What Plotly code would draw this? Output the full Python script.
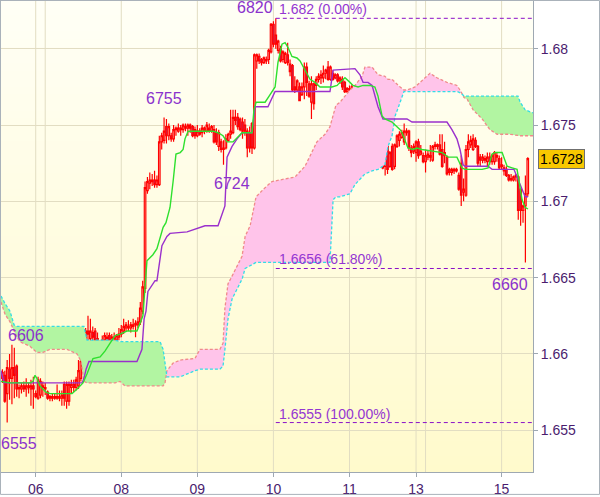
import plotly.graph_objects as go

# ---------------- data ----------------
bars = list(range(-14, 208))  # 45-minute bars, 0 = first bar of day 06

opens = [
    1.6584, 1.6586, 1.6574, 1.6590, 1.6584, 1.6591, 1.6592, 1.6577, 1.6577, 1.6579,
    1.6577, 1.6579, 1.6577, 1.6579, 1.6574, 1.6571, 1.6573, 1.6579, 1.6578, 1.6575,
    1.6571, 1.6572, 1.6571, 1.6572, 1.6571, 1.6571, 1.6580, 1.6569, 1.6569, 1.6578,
    1.6580, 1.6578, 1.6579, 1.6584, 1.6595, 1.6590, 1.6615, 1.6610, 1.6614, 1.6615,
    1.6609, 1.6606, 1.6604, 1.6609, 1.6610, 1.6612, 1.6608, 1.6610, 1.6609, 1.6611,
    1.6613, 1.6615, 1.6617, 1.6618, 1.6617, 1.6618, 1.6619, 1.6619, 1.6621, 1.6628,
    1.6643, 1.6707, 1.6712, 1.6714, 1.6714, 1.6711, 1.6711, 1.6739, 1.6740, 1.6749,
    1.6743, 1.6743, 1.6741, 1.6747, 1.6746, 1.6748, 1.6747, 1.6749, 1.6748, 1.6750,
    1.6749, 1.6747, 1.6743, 1.6746, 1.6745, 1.6748, 1.6746, 1.6748, 1.6746, 1.6747,
    1.6745, 1.6736, 1.6739, 1.6735, 1.6735, 1.6740, 1.6744, 1.6745, 1.6755, 1.6755,
    1.6754, 1.6752, 1.6750, 1.6746, 1.6745, 1.6751, 1.6735, 1.6792, 1.6795, 1.6793,
    1.6791, 1.6793, 1.6793, 1.6798, 1.6816, 1.6809, 1.6799, 1.6800, 1.6793, 1.6791,
    1.6796, 1.6790, 1.6789, 1.6775, 1.6773, 1.6775, 1.6770, 1.6775, 1.6788, 1.6777,
    1.6765, 1.6777, 1.6776, 1.6780, 1.6781, 1.6781, 1.6784, 1.6788, 1.6780, 1.6784,
    1.6781, 1.6783, 1.6779, 1.6780, 1.6778, 1.6772, 1.6774, 1.6773, 1.6774, 1.6773,
    1.6770, 1.6773, 1.6771, 1.6771, 1.6774, 1.6779, 1.6775, 1.6773, 1.6765, 1.6754,
    1.6737, 1.6723, 1.6736, 1.6723, 1.6736, 1.6723, 1.6736, 1.6740, 1.6742, 1.6739,
    1.6746, 1.6746, 1.6735, 1.6733, 1.6732, 1.6739, 1.6731, 1.6730, 1.6726, 1.6729,
    1.6730, 1.6727, 1.6736, 1.6737, 1.6737, 1.6734, 1.6732, 1.6729, 1.6721, 1.6719,
    1.6721, 1.6720, 1.6717, 1.6725, 1.6706, 1.6704, 1.6734, 1.6737, 1.6734, 1.6740,
    1.6736, 1.6729, 1.6727, 1.6728, 1.6726, 1.6729, 1.6726, 1.6726, 1.6730, 1.6728,
    1.6724, 1.6722, 1.6721, 1.6717, 1.6715, 1.6714, 1.6716, 1.6716, 1.6708, 1.6694,
    1.6697, 1.6705,
]
highs = [
    1.6590, 1.6589, 1.6596, 1.6600, 1.6606, 1.6604, 1.6593, 1.6580, 1.6581, 1.6582,
    1.6584, 1.6581, 1.6583, 1.6585, 1.6576, 1.6585, 1.6584, 1.6582, 1.6581, 1.6576,
    1.6573, 1.6574, 1.6574, 1.6580, 1.6576, 1.6576, 1.6582, 1.6582, 1.6582, 1.6583,
    1.6583, 1.6585, 1.6596, 1.6597, 1.6598, 1.6617, 1.6625, 1.6623, 1.6618, 1.6617,
    1.6614, 1.6609, 1.6612, 1.6614, 1.6614, 1.6614, 1.6613, 1.6614, 1.6613, 1.6617,
    1.6619, 1.6623, 1.6621, 1.6622, 1.6621, 1.6623, 1.6622, 1.6624, 1.6634, 1.6648,
    1.6713, 1.6716, 1.6719, 1.6718, 1.6720, 1.6717, 1.6743, 1.6745, 1.6755, 1.6754,
    1.6751, 1.6745, 1.6750, 1.6749, 1.6751, 1.6750, 1.6751, 1.6751, 1.6751, 1.6751,
    1.6750, 1.6749, 1.6750, 1.6748, 1.6750, 1.6749, 1.6752, 1.6751, 1.6750, 1.6750,
    1.6748, 1.6747, 1.6741, 1.6740, 1.6744, 1.6745, 1.6760, 1.6760, 1.6760, 1.6758,
    1.6755, 1.6755, 1.6754, 1.6748, 1.6749, 1.6752, 1.6797, 1.6797, 1.6797, 1.6794,
    1.6795, 1.6795, 1.6800, 1.6817, 1.6818, 1.6820, 1.6806, 1.6802, 1.6799, 1.6798,
    1.6804, 1.6793, 1.6790, 1.6782, 1.6780, 1.6778, 1.6778, 1.6791, 1.6791, 1.6779,
    1.6782, 1.6778, 1.6782, 1.6784, 1.6786, 1.6789, 1.6787, 1.6792, 1.6789, 1.6786,
    1.6784, 1.6784, 1.6782, 1.6782, 1.6779, 1.6775, 1.6776, 1.6777, 1.6775, 1.6775,
    1.6775, 1.6775, 1.6774, 1.6778, 1.6780, 1.6780, 1.6776, 1.6774, 1.6766, 1.6756,
    1.6738, 1.6737, 1.6737, 1.6733, 1.6738, 1.6738, 1.6744, 1.6746, 1.6747, 1.6751,
    1.6748, 1.6747, 1.6737, 1.6738, 1.6740, 1.6741, 1.6737, 1.6732, 1.6734, 1.6733,
    1.6737, 1.6737, 1.6739, 1.6738, 1.6744, 1.6744, 1.6739, 1.6730, 1.6722, 1.6722,
    1.6722, 1.6722, 1.6719, 1.6730, 1.6715, 1.6737, 1.6744, 1.6743, 1.6744, 1.6742,
    1.6737, 1.6731, 1.6731, 1.6730, 1.6732, 1.6732, 1.6731, 1.6733, 1.6732, 1.6730,
    1.6729, 1.6724, 1.6723, 1.6718, 1.6718, 1.6717, 1.6718, 1.6717, 1.6708, 1.6698,
    1.6717, 1.6729,
]
lows = [
    1.6581, 1.6568, 1.6555, 1.6570, 1.6567, 1.6571, 1.6572, 1.6571, 1.6574, 1.6575,
    1.6572, 1.6574, 1.6566, 1.6564, 1.6571, 1.6570, 1.6571, 1.6572, 1.6573, 1.6570,
    1.6569, 1.6569, 1.6570, 1.6570, 1.6569, 1.6566, 1.6566, 1.6564, 1.6566, 1.6574,
    1.6575, 1.6576, 1.6577, 1.6582, 1.6590, 1.6588, 1.6609, 1.6608, 1.6608, 1.6606,
    1.6603, 1.6602, 1.6602, 1.6607, 1.6607, 1.6605, 1.6606, 1.6607, 1.6607, 1.6609,
    1.6611, 1.6613, 1.6615, 1.6615, 1.6614, 1.6616, 1.6611, 1.6617, 1.6619, 1.6626,
    1.6640, 1.6705, 1.6708, 1.6710, 1.6709, 1.6709, 1.6710, 1.6734, 1.6738, 1.6738,
    1.6740, 1.6739, 1.6739, 1.6743, 1.6745, 1.6743, 1.6745, 1.6746, 1.6743, 1.6745,
    1.6742, 1.6741, 1.6742, 1.6743, 1.6742, 1.6744, 1.6745, 1.6745, 1.6745, 1.6738,
    1.6737, 1.6733, 1.6732, 1.6724, 1.6734, 1.6739, 1.6741, 1.6744, 1.6750, 1.6747,
    1.6746, 1.6741, 1.6743, 1.6729, 1.6732, 1.6731, 1.6734, 1.6787, 1.6790, 1.6789,
    1.6790, 1.6790, 1.6790, 1.6797, 1.6801, 1.6800, 1.6797, 1.6791, 1.6791, 1.6790,
    1.6789, 1.6782, 1.6772, 1.6771, 1.6772, 1.6766, 1.6769, 1.6767, 1.6769, 1.6768,
    1.6754, 1.6760, 1.6773, 1.6778, 1.6777, 1.6778, 1.6780, 1.6779, 1.6779, 1.6779,
    1.6780, 1.6778, 1.6777, 1.6773, 1.6771, 1.6771, 1.6771, 1.6772, 1.6766, 1.6769,
    1.6769, 1.6769, 1.6769, 1.6770, 1.6772, 1.6771, 1.6763, 1.6763, 1.6741, 1.6735,
    1.6721, 1.6717, 1.6718, 1.6722, 1.6720, 1.6721, 1.6735, 1.6736, 1.6741, 1.6737,
    1.6743, 1.6733, 1.6729, 1.6731, 1.6726, 1.6728, 1.6730, 1.6725, 1.6719, 1.6727,
    1.6726, 1.6726, 1.6734, 1.6734, 1.6730, 1.6722, 1.6725, 1.6717, 1.6717, 1.6717,
    1.6718, 1.6719, 1.6707, 1.6697, 1.6700, 1.6703, 1.6729, 1.6735, 1.6733, 1.6735,
    1.6723, 1.6723, 1.6725, 1.6725, 1.6723, 1.6724, 1.6724, 1.6724, 1.6726, 1.6721,
    1.6721, 1.6717, 1.6716, 1.6713, 1.6713, 1.6713, 1.6713, 1.6688, 1.6684, 1.6686,
    1.6660, 1.6703,
]
closes = [
    1.6588, 1.6569, 1.6591, 1.6584, 1.6591, 1.6586, 1.6577, 1.6578, 1.6579, 1.6577,
    1.6579, 1.6578, 1.6579, 1.6577, 1.6572, 1.6583, 1.6582, 1.6578, 1.6577, 1.6571,
    1.6572, 1.6571, 1.6572, 1.6571, 1.6572, 1.6573, 1.6571, 1.6580, 1.6580, 1.6580,
    1.6578, 1.6583, 1.6589, 1.6595, 1.6596, 1.6615, 1.6613, 1.6615, 1.6611, 1.6608,
    1.6610, 1.6604, 1.6609, 1.6612, 1.6611, 1.6608, 1.6611, 1.6611, 1.6612, 1.6613,
    1.6616, 1.6618, 1.6619, 1.6617, 1.6619, 1.6619, 1.6620, 1.6621, 1.6630, 1.6644,
    1.6709, 1.6713, 1.6714, 1.6713, 1.6711, 1.6714, 1.6739, 1.6743, 1.6746, 1.6743,
    1.6749, 1.6741, 1.6747, 1.6748, 1.6748, 1.6747, 1.6750, 1.6748, 1.6750, 1.6748,
    1.6743, 1.6743, 1.6746, 1.6744, 1.6748, 1.6746, 1.6750, 1.6746, 1.6749, 1.6739,
    1.6739, 1.6745, 1.6734, 1.6734, 1.6741, 1.6744, 1.6746, 1.6755, 1.6753, 1.6749,
    1.6747, 1.6746, 1.6746, 1.6735, 1.6735, 1.6735, 1.6796, 1.6796, 1.6792, 1.6791,
    1.6794, 1.6792, 1.6799, 1.6816, 1.6803, 1.6803, 1.6805, 1.6792, 1.6798, 1.6797,
    1.6791, 1.6785, 1.6773, 1.6773, 1.6779, 1.6766, 1.6775, 1.6788, 1.6778, 1.6769,
    1.6777, 1.6764, 1.6780, 1.6782, 1.6783, 1.6784, 1.6786, 1.6780, 1.6788, 1.6780,
    1.6783, 1.6779, 1.6781, 1.6775, 1.6772, 1.6774, 1.6773, 1.6775, 1.6772, 1.6771,
    1.6774, 1.6770, 1.6773, 1.6777, 1.6779, 1.6773, 1.6765, 1.6765, 1.6742, 1.6736,
    1.6722, 1.6736, 1.6721, 1.6732, 1.6721, 1.6737, 1.6743, 1.6744, 1.6745, 1.6746,
    1.6745, 1.6735, 1.6732, 1.6736, 1.6739, 1.6730, 1.6733, 1.6726, 1.6730, 1.6731,
    1.6729, 1.6736, 1.6737, 1.6736, 1.6731, 1.6723, 1.6730, 1.6718, 1.6719, 1.6721,
    1.6720, 1.6721, 1.6708, 1.6704, 1.6708, 1.6734, 1.6739, 1.6740, 1.6741, 1.6736,
    1.6725, 1.6727, 1.6729, 1.6727, 1.6729, 1.6726, 1.6730, 1.6732, 1.6729, 1.6722,
    1.6723, 1.6720, 1.6717, 1.6714, 1.6714, 1.6716, 1.6717, 1.6694, 1.6694, 1.6697,
    1.6705, 1.6728,
]

# Ichimoku lines (bar position, price)
tenkan_x = [-14.6, -10.8, -2.4, -1.1, -0.3, 0.5, 1.8, 4.3, 6.0, 15.3, 17.4, 19.9, 21.6, 24.1, 27.1,
            29.2, 31.3, 33.4, 35.5, 38.4, 42.6, 45.1, 46.8, 49.3, 51.0, 52.3, 53.6, 54.8, 56.5, 57.8,
            59.0, 60.8, 62.0, 62.8, 64.1, 74.6, 76.7, 78.8, 80.5, 83.0, 84.7, 86.8, 91.0, 91.8, 92.7,
            96.5, 98.6, 100.7, 101.9, 103.6, 104.9, 106.1, 107.8, 109.9, 111.2, 113.3, 115.4, 117.5,
            119.6, 124.6, 126.8, 128.0, 130.1, 132.2, 133.5, 135.6, 137.7, 140.6, 142.7, 144.0, 145.7,
            146.9, 149.9, 151.2, 153.3, 154.1, 156.6, 158.7, 160.4, 162.5, 168.0, 170.9, 173.5, 177.2,
            179.3, 180.6, 187.8, 190.3, 192.0, 193.3, 196.2, 198.3, 200.4, 202.5, 204.6, 205.9, 207.1]
tenkan_y = [1.6582, 1.6581, 1.6581, 1.6582, 1.6586, 1.6584, 1.6579, 1.6575, 1.6574, 1.6574, 1.6577,
            1.6581, 1.6587, 1.6597, 1.6598, 1.6602, 1.6607, 1.6612, 1.6613, 1.6615, 1.6615, 1.6625,
            1.6661, 1.6665, 1.6669, 1.6677, 1.6683, 1.6686, 1.6696, 1.6713, 1.6731, 1.6732, 1.6734,
            1.6741, 1.6746, 1.6746, 1.6745, 1.6743, 1.6739, 1.6739, 1.6742, 1.6745, 1.6745, 1.6760,
            1.6765, 1.6765, 1.6770, 1.6775, 1.6791, 1.6803, 1.6804, 1.6801, 1.6795, 1.6794, 1.6792,
            1.6786, 1.6780, 1.6778, 1.6775, 1.6775, 1.6776, 1.6778, 1.6781, 1.6778, 1.6776, 1.6775,
            1.6776, 1.6776, 1.6775, 1.6769, 1.6756, 1.6754, 1.6752, 1.6750, 1.6747, 1.6745, 1.6735,
            1.6734, 1.6735, 1.6734, 1.6733, 1.6732, 1.6729, 1.6729, 1.6722, 1.6721, 1.6721, 1.6722,
            1.6731, 1.6732, 1.6732, 1.6723, 1.6722, 1.6721, 1.6701, 1.6696, 1.6695]

kijun_x = [-14.6, -13.3, 19.5, 20.3, 21.2, 22.4, 42.6, 44.7, 45.6, 46.4, 47.2, 50.2, 51.0, 53.1, 55.2,
           56.5, 63.7, 65.8, 70.0, 71.2, 76.7, 79.6, 80.5, 82.6, 84.7, 86.8, 91.0, 92.3, 97.7, 99.4,
           100.7, 123.8, 125.1, 134.3, 136.4, 137.7, 139.8, 141.5, 144.0, 146.1, 151.2, 156.2, 158.3,
           173.0, 175.1, 177.2, 178.5, 179.8, 180.6, 190.3, 192.0, 201.2, 202.5, 204.2, 205.9, 207.1]
kijun_y = [1.6589, 1.6581, 1.6581, 1.6584, 1.6590, 1.6595, 1.6595, 1.6603, 1.6623, 1.6628, 1.6641,
           1.6648, 1.6648, 1.6671, 1.6677, 1.6679, 1.6680, 1.6681, 1.6683, 1.6684, 1.6684, 1.6697,
           1.6729, 1.6736, 1.6741, 1.6745, 1.6745, 1.6762, 1.6762, 1.6768, 1.6772, 1.6772, 1.6786,
           1.6787, 1.6783, 1.6778, 1.6778, 1.6776, 1.6762, 1.6754, 1.6754, 1.6754, 1.6752, 1.6752,
           1.6747, 1.6741, 1.6734, 1.6724, 1.6723, 1.6723, 1.6721, 1.6721, 1.6716, 1.6710, 1.6703,
           1.6703]

cloud_x = [-14.6, -12.9, -10.8, -9.1, -7.9, -6.6, -2.4, 0.5, 3.1, 6.0, 13.2, 17.4, 19.1, 20.3, 21.6,
           33.4, 35.5, 37.6, 52.3, 53.6, 54.4, 55.2, 57.8, 60.8, 67.0, 69.1, 77.5, 78.8, 79.6, 80.9,
           82.6, 84.7, 86.8, 88.1, 90.2, 91.4, 92.7, 96.5, 99.4, 109.1, 113.3, 118.3, 121.7, 123.8,
           125.1, 126.3, 128.0, 132.2, 134.3, 137.3, 138.5, 141.5, 144.0, 146.9, 148.2, 149.9, 151.2,
           152.4, 153.3, 154.9, 156.2, 159.6, 162.9, 165.9, 168.8, 173.0, 177.2, 178.9, 180.2, 181.5,
           184.0, 187.8, 191.1, 194.1, 199.5, 202.9, 203.8, 205.9, 209.2]
span_a = [1.6638, 1.6633, 1.6628, 1.6619, 1.6618, 1.6618, 1.6618, 1.6618, 1.6618, 1.6618, 1.6618,
          1.6618, 1.6618, 1.6618, 1.6609, 1.6609, 1.6608, 1.6608, 1.6608, 1.6603, 1.6594, 1.6585,
          1.6585, 1.6585, 1.6589, 1.6590, 1.6590, 1.6592, 1.6603, 1.6623, 1.6636, 1.6643, 1.6649,
          1.6656, 1.6658, 1.6659, 1.6660, 1.6660, 1.6660, 1.6660, 1.6660, 1.6660, 1.6660, 1.6660,
          1.6701, 1.6703, 1.6703, 1.6705, 1.6711, 1.6716, 1.6718, 1.6720, 1.6721, 1.6724, 1.6736,
          1.6743, 1.6756, 1.6761, 1.6765, 1.6772, 1.6772, 1.6772, 1.6772, 1.6772, 1.6772, 1.6772,
          1.6772, 1.6771, 1.6769, 1.6769, 1.6769, 1.6769, 1.6769, 1.6769, 1.6769, 1.6769, 1.6765,
          1.6760, 1.6758]
span_b = [1.6634, 1.6626, 1.6621, 1.6615, 1.6611, 1.6608, 1.6605, 1.6601, 1.6601, 1.6603, 1.6603,
          1.6600, 1.6595, 1.6582, 1.6581, 1.6581, 1.6582, 1.6579, 1.6579, 1.6579, 1.6581, 1.6589,
          1.6594, 1.6596, 1.6597, 1.6603, 1.6603, 1.6607, 1.6630, 1.6646, 1.6651, 1.6658, 1.6664,
          1.6677, 1.6684, 1.6693, 1.6703, 1.6709, 1.6713, 1.6716, 1.6723, 1.6739, 1.6744, 1.6749,
          1.6757, 1.6763, 1.6765, 1.6773, 1.6776, 1.6782, 1.6788, 1.6788, 1.6783, 1.6782, 1.6780,
          1.6780, 1.6778, 1.6776, 1.6775, 1.6773, 1.6773, 1.6775, 1.6780, 1.6784, 1.6781, 1.6778,
          1.6776, 1.6772, 1.6768, 1.6767, 1.6760, 1.6754, 1.6747, 1.6744, 1.6744, 1.6743, 1.6743,
          1.6743, 1.6743]

day_ticks = [0, 36, 68, 100, 132, 160, 196]
day_labels = ["06", "08", "09", "10", "11", "13", "15"]
day_starts = [0, 4, 36, 68, 100, 132, 160, 164, 196]

price_ticks = [1.655, 1.66, 1.665, 1.67, 1.675, 1.68]
price_labels = ["1.655", "1.66", "1.665", "1.67", "1.675", "1.68"]

fib_start_bar = 101
fib_levels = [1.682, 1.6656, 1.6555]
fib_pcts = ["0.00%", "61.80%", "100.00%"]

swing_text = ["6820", "6755", "6724", "6660", "6606", "6555"]
swing_bar = [101, 54, 79, 206, -10, -12]
swing_price = [1.6820, 1.6755, 1.6724, 1.6660, 1.6606, 1.6555]

last_price = 1.6728

# ---------------- styling ----------------
X_RANGE = [-14.6, 209.2]
Y_RANGE = [1.65226, 1.68320]
FONT = "Liberation Sans, Arial, sans-serif"
AXIS_TXT = "#4a1c6e"
LABEL_COL = "#8b32cc"
GRID = "#e2ddc2"
BORDER = "#9ea8b2"

fig = go.Figure()

# cloud fill: split into runs where span A is above (green) or below (pink) span B
pts = []
for i in range(len(cloud_x)):
    if i:
        d0 = span_a[i - 1] - span_b[i - 1]
        d1 = span_a[i] - span_b[i]
        if d0 * d1 < 0:
            t = d0 / (d0 - d1)
            kc = cloud_x[i - 1] + t * (cloud_x[i] - cloud_x[i - 1])
            vc = span_a[i - 1] + t * (span_a[i] - span_a[i - 1])
            pts.append((kc, vc, vc))
    pts.append((cloud_x[i], span_a[i], span_b[i]))

runs = []
cur, cur_sign = [], 0
for p in pts:
    d = p[1] - p[2]
    s = (d > 0) - (d < 0)
    if s == 0:
        cur.append(p)
        if cur_sign != 0:
            runs.append((cur_sign, cur))
            cur, cur_sign = [p], 0
        continue
    if cur_sign == 0:
        cur_sign = s
    cur.append(p)
if len(cur) > 1:
    runs.append((cur_sign, cur))

for sign, color in [(1, "#b2f5a2"), (-1, "#ffc4ea")]:
    xs, ys = [], []
    for sg, run in runs:
        if sg != sign or len(run) < 2:
            continue
        xs += [p[0] for p in run] + [p[0] for p in reversed(run)] + [None]
        ys += [p[1] for p in run] + [p[2] for p in reversed(run)] + [None]
    fig.add_trace(go.Scatter(x=xs, y=ys, mode="lines", fill="toself", fillcolor=color,
                             line=dict(width=0), hoverinfo="skip", showlegend=False))

fig.add_trace(go.Scatter(x=cloud_x, y=span_b, mode="lines",
                         line=dict(color="#f08a8a", width=1.3, dash="3px,2px"),
                         hoverinfo="skip", showlegend=False))
fig.add_trace(go.Scatter(x=cloud_x, y=span_a, mode="lines",
                         line=dict(color="#33dde6", width=1.3, dash="3px,2px"),
                         hoverinfo="skip", showlegend=False))

fig.add_trace(go.Candlestick(
    x=bars, open=opens, high=highs, low=lows, close=closes,
    increasing=dict(line=dict(color="#ff0000", width=1.2), fillcolor="rgba(0,0,0,0)"),
    decreasing=dict(line=dict(color="#ff0000", width=1.2), fillcolor="#9b3a97"),
    whiskerwidth=0, hoverinfo="skip", showlegend=False))

fig.add_trace(go.Scatter(x=kijun_x, y=kijun_y, mode="lines",
                         line=dict(color="#9a30cc", width=1.4), hoverinfo="skip", showlegend=False))
fig.add_trace(go.Scatter(x=tenkan_x, y=tenkan_y, mode="lines",
                         line=dict(color="#2ee02e", width=1.4), hoverinfo="skip", showlegend=False))

shapes = []
# background gradient (bottom yellow -> top cream)
n = 60
bot_rgb, top_rgb = (255, 250, 204), (255, 255, 246)
for i in range(n):
    t = (i + 0.5) / n
    c = tuple(round(b + (tp - b) * t) for b, tp in zip(bot_rgb, top_rgb))
    shapes.append(dict(type="rect", xref="paper", yref="paper", x0=0, x1=1,
                       y0=i / n, y1=min(1, (i + 1) / n + 0.003),
                       fillcolor="rgb(%d,%d,%d)" % c, line=dict(width=0), layer="below"))
for k in day_starts:
    shapes.append(dict(type="line", xref="x", yref="paper", x0=k, x1=k, y0=0, y1=1,
                       line=dict(color=GRID, width=1), layer="below"))
for lv in fib_levels:
    shapes.append(dict(type="line", xref="x", yref="y", x0=fib_start_bar, x1=X_RANGE[1],
                       y0=lv, y1=lv, line=dict(color="#8a10c8", width=1, dash="4px,3px")))
# outer frame of the whole picture
PW, PH, PL = 532.0, 474.0, 1.0
shapes.append(dict(type="rect", xref="paper", yref="paper",
                   x0=(0.5 - PL) / PW, x1=(599.5 - PL) / PW,
                   y0=(PH - 496.5) / PH, y1=(PH - 0.5) / PH,
                   line=dict(color="#a9b2ba", width=1), fillcolor="rgba(0,0,0,0)"))

annotations = []
for lv, pct in zip(fib_levels, fib_pcts):
    annotations.append(dict(x=fib_start_bar, y=lv, xref="x", yref="y", text=f"{lv} ({pct})",
                            showarrow=False, xanchor="left", yanchor="bottom", xshift=1, yshift=-1,
                            font=dict(family=FONT, size=14, color="#9436d2")))

swing_style = {
    "6820": dict(xanchor="right", yanchor="bottom", xshift=-1, yshift=0),
    "6755": dict(xanchor="center", yanchor="bottom", xshift=0, yshift=8),
    "6724": dict(xanchor="center", yanchor="top", xshift=8, yshift=-8),
    "6660": dict(xanchor="right", yanchor="top", xshift=5, yshift=-12),
    "6606": dict(xanchor="center", yanchor="bottom", xshift=14, yshift=-1),
    "6555": dict(xanchor="center", yanchor="top", xshift=12, yshift=-10),
}
for txt, b, p in zip(swing_text, swing_bar, swing_price):
    st = swing_style[txt]
    annotations.append(dict(x=b, y=p, xref="x", yref="y", text=txt, showarrow=False,
                            font=dict(family=FONT, size=16, color=LABEL_COL), **st))

annotations.append(dict(x=1, y=last_price, xref="paper", yref="y", text=f"{last_price:.4f}",
                        showarrow=False, xanchor="left", yanchor="middle", xshift=5,
                        bgcolor="#f8c800", bordercolor="#6f6f6f", borderwidth=1, borderpad=1,
                        font=dict(family=FONT, size=14, color="#000000")))

fig.update_layout(
    width=600, height=497,
    margin=dict(l=1, r=67, t=0, b=23),
    paper_bgcolor="#ffffff", plot_bgcolor="#fffde2",
    showlegend=False, hovermode=False, boxgap=0.08,
    shapes=shapes, annotations=annotations,
    xaxis=dict(range=X_RANGE, rangeslider=dict(visible=False), showgrid=False, zeroline=False,
               tickmode="array", tickvals=day_ticks, ticktext=day_labels,
               ticks="outside", ticklen=4, tickcolor=BORDER,
               showline=True, linecolor=BORDER, linewidth=1,
               tickfont=dict(family=FONT, size=14, color=AXIS_TXT)),
    yaxis=dict(range=Y_RANGE, side="right", showgrid=True, gridcolor=GRID, gridwidth=1,
               zeroline=False, tickmode="array", tickvals=price_ticks, ticktext=price_labels,
               ticks="outside", ticklen=4, tickcolor=BORDER,
               showline=True, linecolor=BORDER, linewidth=1, mirror=True,
               tickfont=dict(family=FONT, size=14, color=AXIS_TXT)),
)

fig.write_html("out.html", config={"displayModeBar": False},
               post_script="document.body.style.margin='0';document.body.style.overflow='hidden';")
